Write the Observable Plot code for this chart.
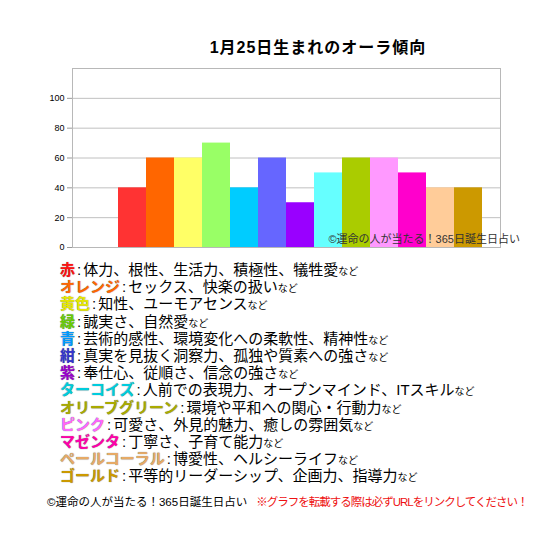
<!DOCTYPE html>
<html><head><meta charset="utf-8">
<script src="https://cdn.jsdelivr.net/npm/d3@7"></script>
<script src="https://cdn.jsdelivr.net/npm/@observablehq/plot@0.6"></script>
<style>
body{margin:0;background:#fff;font-family:"Liberation Sans","Noto Sans CJK JP",sans-serif;}
#wrap{position:relative;width:560px;height:560px;overflow:hidden;}
#title{position:absolute;left:0;width:636px;top:34px;text-align:center;font-size:16px;font-weight:bold;letter-spacing:1px;color:#000;}
#chart{position:absolute;left:0;top:58px;}
#legend{position:absolute;left:60px;top:261px;}
#legend div{font-size:15px;line-height:17.2px;height:17.2px;white-space:nowrap;color:#000;}
#legend .lab{font-weight:bold;text-shadow:0 0 1px rgba(0,0,0,0.6);}
#legend .colon{margin:0 2px;}
#legend .nado{font-size:10px;}
#footer{position:absolute;left:47px;top:493px;font-size:11.5px;white-space:nowrap;}
#footer .red{color:#ee1111;margin-left:9px;letter-spacing:-1px;}
</style></head>
<body><div id="wrap">
<div id="title"></div>
<div id="chart"></div>
<div id="legend"></div>
<div id="footer"></div>
</div>
<script>
const titleText = "1月25日生まれのオーラ傾向";
const categories = ["赤","オレンジ","黄色","緑","青","紺","紫","ターコイズ","オリーブグリーン","ピンク","マゼンタ","ペールコーラル","ゴールド"];
const values = [40,60,60,70,40,60,30,50,60,60,50,40,40];
const barColors = ["#FF3333","#FF6600","#FFFF66","#99FF66","#00CCFF","#6666FF","#9900FF","#66FFFF","#AACC00","#FF99FF","#FF00CC","#FFCC99","#CC9900"];
const labelColors = ["#FF1111","#FF6600","#E6E600","#66CC00","#0099FF","#3333CC","#9900CC","#00CCDD","#AAAA00","#FF66FF","#FF00AA","#E6AA66","#CC9900"];
const descriptions = ["体力、根性、生活力、積極性、犠牲愛","セックス、快楽の扱い","知性、ユーモアセンス","誠実さ、自然愛","芸術的感性、環境変化への柔軟性、精神性","真実を見抜く洞察力、孤独や質素への強さ","奉仕心、従順さ、信念の強さ","人前での表現力、オープンマインド、ITスキル","環境や平和への関心・行動力","可愛さ、外見的魅力、癒しの雰囲気","丁寧さ、子育て能力","博愛性、ヘルシーライフ","平等的リーダーシップ、企画力、指導力"];
const yTicks = [0,20,40,60,80,100];
const watermark = "©運命の人が当たる！365日誕生日占い";
const footerBlack = "©運命の人が当たる！365日誕生日占い";
const footerRed = "※グラフを転載する際は必ずURLをリンクしてください！";

document.getElementById("title").textContent = titleText;

const data = categories.map((c,i)=>({cat:c, value:values[i]}));

const chart = Plot.plot({
  width:560, height:197,
  marginLeft:72, marginRight:60, marginTop:10, marginBottom:8,
  style:{fontFamily:"Liberation Sans, Arial, sans-serif", fontSize:"9px", color:"#000", overflow:"visible"},
  x:{domain:["", ...categories], paddingInner:0, paddingOuter:0.5, axis:null},
  y:{domain:[0,120], axis:null},
  color:{domain:categories, range:barColors},
  marks:[
    Plot.gridY(yTicks, {stroke:"#c0c0c0", strokeOpacity:1}),
    Plot.frame({stroke:"#b8b8b8"}),
    Plot.barY(data, {x:"cat", y:"value", fill:"cat"}),
    Plot.axisY(yTicks, {tickSize:5, stroke:"#999", tickPadding:3, fill:"#000", fontSize:9, label:null}),
    Plot.text([watermark], {x:()=>"ターコイズ", y:()=>0, text:d=>d, textAnchor:"start", dy:-8, fontSize:11, fill:"#333", fontFamily:"Liberation Sans, Noto Sans CJK JP"})
  ]
});
document.getElementById("chart").appendChild(chart);

const legend = d3.select("#legend");
categories.forEach((c,i)=>{
  const row = legend.append("div");
  row.append("span").attr("class","lab").style("color", labelColors[i]).text(c);
  row.append("span").attr("class","colon").text(":");
  row.append("span").text(descriptions[i]);
  row.append("span").attr("class","nado").text("など");
});
const footer = d3.select("#footer");
footer.append("span").text(footerBlack);
footer.append("span").attr("class","red").text(footerRed);
</script>
</body></html>
